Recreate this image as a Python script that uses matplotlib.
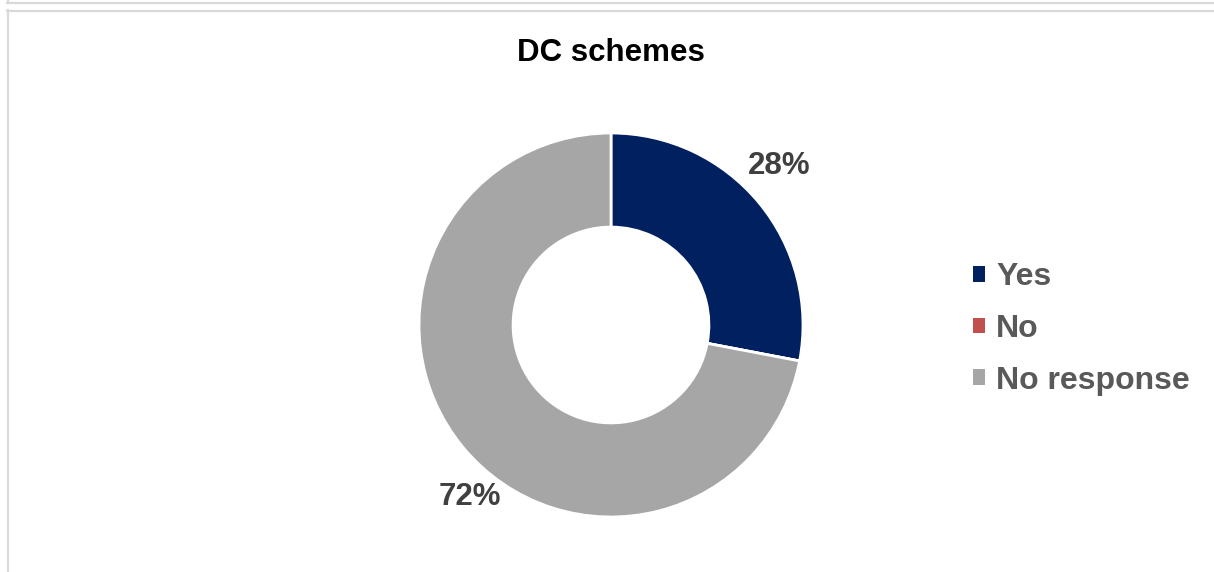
import matplotlib.pyplot as plt
from matplotlib.patches import Patch
from matplotlib.lines import Line2D

plt.rcParams['font.family'] = ['Liberation Sans', 'DejaVu Sans']

# Share of DC schemes by answer
categories = ['Yes', 'No', 'No response']
shares = [28, 0, 72]
colors = ['#002060', '#C0504D', '#A6A6A6']

W, H = 1214, 572
fig = plt.figure(figsize=(W / 100, H / 100), dpi=100)
ax = fig.add_axes([0, 0, 1, 1])

# frame lines of the chart area
frame = '#D9D9D9'
ax.add_line(Line2D([7, W], [H - 2.5, H - 2.5], color=frame, lw=1.6))
ax.add_line(Line2D([7.5, 7.5], [H, H - 3], color=frame, lw=1.6))
ax.add_line(Line2D([7, W], [H - 10.5, H - 10.5], color=frame, lw=1.6))
ax.add_line(Line2D([7.5, 7.5], [H - 10, 0], color=frame, lw=1.6))

cx, cy, r = 611, H - 325, 192
wedges, _ = ax.pie(shares, colors=colors, startangle=90, counterclock=False,
                   center=(cx, cy), radius=r, frame=True,
                   wedgeprops=dict(width=r * 0.49, edgecolor='white', linewidth=2))
ax.set_xlim(0, W)
ax.set_ylim(0, H)
ax.set_aspect('equal')
ax.axis('off')

# percentage labels outside the ring
label_pos = {0: (779, H - 166), 2: (470, H - 497)}
for i, (x, y) in label_pos.items():
    ax.text(x, y, f'{shares[i]}%', ha='center', va='center', fontsize=22.5,
            fontweight='bold', color='#404040')

ax.text(cx, H - 53, 'DC schemes', ha='center', va='center', fontsize=22.5,
        fontweight='bold', color='black')

fs = 23
handles = [Patch(facecolor=c, edgecolor='none') for c in colors]
leg = fig.legend(handles, categories, loc='center left',
                 bbox_to_anchor=(944 / W, 1 - 329 / H), frameon=False,
                 prop=dict(size=fs, weight='bold'), handlelength=0.38,
                 handleheight=0.38, handletextpad=0.35, labelspacing=0.68)
for t in leg.get_texts():
    t.set_color('#595959')

fig.savefig('out.png', dpi=100, facecolor='white')
